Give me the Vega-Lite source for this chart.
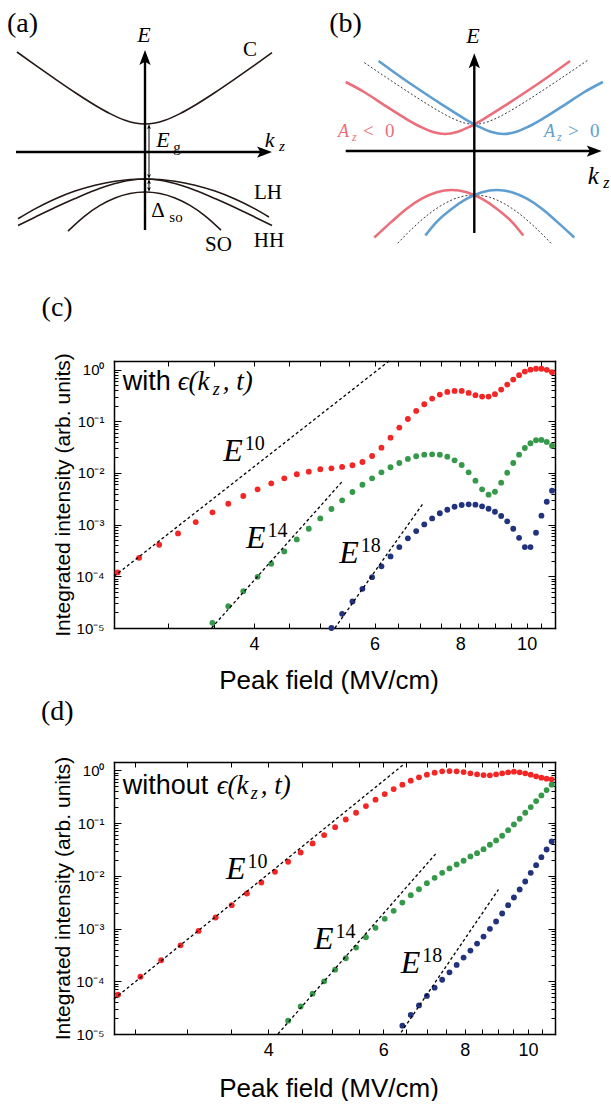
{
  "$schema": "https://vega.github.io/schema/vega-lite/v6.json",
  "padding": 0,
  "background": "white",
  "bounds": "flush",
  "spacing": 134,
  "resolve": {"scale": {"color": "independent"}},
  "config": {
    "view": {"stroke": null},
    "axis": {"tickColor": "black", "labelColor": "black", "titleColor": "black", "grid": false, "domainColor": "black", "domainWidth": 1.5, "domainCap": "square"}
  },
  "vconcat": [
    {
      "width": 611,
      "height": 227,
      "resolve": {"scale": {"x": "independent", "y": "independent"}},
      "layer": [
        {
          "encoding": {
            "x": {"field": "k", "type": "quantitative", "scale": {"domain": [-145, 466], "nice": false, "zero": false}, "axis": null},
            "y": {"field": "E", "type": "quantitative", "scale": {"domain": [-75, 152], "nice": false, "zero": false}, "axis": null}
          },
          "layer": [
            {
              "data": {"values": [
                {"k": -128, "E": 100, "band": "C"}, {"k": -110, "E": 87.1, "band": "C"}, {"k": -90, "E": 73.1, "band": "C"}, {"k": -70, "E": 59.5, "band": "C"}, {"k": -50, "E": 46.8, "band": "C"}, {"k": -35, "E": 38.4, "band": "C"}, {"k": -20, "E": 31.8, "band": "C"}, {"k": -10, "E": 29, "band": "C"}, {"k": 0, "E": 28, "band": "C"}, {"k": 10, "E": 29, "band": "C"}, {"k": 20, "E": 31.8, "band": "C"}, {"k": 35, "E": 38.4, "band": "C"}, {"k": 50, "E": 46.8, "band": "C"}, {"k": 70, "E": 59.5, "band": "C"}, {"k": 90, "E": 73.1, "band": "C"}, {"k": 110, "E": 87.1, "band": "C"}, {"k": 127, "E": 99.3, "band": "C"},
                {"k": -127, "E": -66.8, "band": "LH"}, {"k": -110, "E": -56.9, "band": "LH"}, {"k": -90, "E": -47, "band": "LH"}, {"k": -70, "E": -39.1, "band": "LH"}, {"k": -50, "E": -33.2, "band": "LH"}, {"k": -30, "E": -29.2, "band": "LH"}, {"k": 0, "E": -27, "band": "LH"}, {"k": 30, "E": -29.2, "band": "LH"}, {"k": 50, "E": -33.2, "band": "LH"}, {"k": 70, "E": -39.1, "band": "LH"}, {"k": 90, "E": -47, "band": "LH"}, {"k": 110, "E": -56.9, "band": "LH"}, {"k": 124, "E": -65, "band": "LH"},
                {"k": -127, "E": -73.5, "band": "HH"}, {"k": -110, "E": -65.2, "band": "HH"}, {"k": -90, "E": -55.6, "band": "HH"}, {"k": -70, "E": -46.6, "band": "HH"}, {"k": -50, "E": -38.3, "band": "HH"}, {"k": -30, "E": -31.6, "band": "HH"}, {"k": -15, "E": -28.2, "band": "HH"}, {"k": 0, "E": -27, "band": "HH"}, {"k": 15, "E": -28.2, "band": "HH"}, {"k": 30, "E": -31.6, "band": "HH"}, {"k": 50, "E": -38.3, "band": "HH"}, {"k": 70, "E": -46.6, "band": "HH"}, {"k": 90, "E": -55.6, "band": "HH"}, {"k": 110, "E": -65.2, "band": "HH"}, {"k": 127, "E": -73.5, "band": "HH"},
                {"k": -77, "E": -79.1, "band": "SO"}, {"k": -60, "E": -63.8, "band": "SO"}, {"k": -45, "E": -53.4, "band": "SO"}, {"k": -30, "E": -45.9, "band": "SO"}, {"k": -15, "E": -41.5, "band": "SO"}, {"k": 0, "E": -40, "band": "SO"}, {"k": 15, "E": -41.5, "band": "SO"}, {"k": 30, "E": -45.9, "band": "SO"}, {"k": 45, "E": -53.4, "band": "SO"}, {"k": 60, "E": -63.8, "band": "SO"}, {"k": 76, "E": -78.1, "band": "SO"}
              ]},
              "mark": {"type": "line", "color": "#231815", "strokeWidth": 1.6, "interpolate": "monotone"},
              "encoding": {"detail": {"field": "band"}}
            },
            {
              "data": {"values": [{"k": -129, "E": 0, "k2": 120, "E2": 0}, {"k": 0, "E": -78, "k2": 0, "E2": 95}]},
              "mark": {"type": "rule", "color": "black", "strokeWidth": 2.4},
              "encoding": {"x2": {"field": "k2"}, "y2": {"field": "E2"}}
            },
            {
              "data": {"values": [{"k": 4, "E": 25, "k2": 4, "E2": -24}, {"k": 4, "E": -29, "k2": 4, "E2": -38}]},
              "mark": {"type": "rule", "color": "black", "strokeWidth": 1},
              "encoding": {"x2": {"field": "k2"}, "y2": {"field": "E2"}}
            },
            {
              "data": {"values": [{"k": 0, "E": 94.5}]},
              "mark": {"type": "point", "shape": "M0,-1L0.75,1L0,0.55L-0.75,1Z", "filled": true, "color": "black", "opacity": 1, "size": 225, "strokeWidth": 0}
            },
            {
              "data": {"values": [{"k": 119.5, "E": 0}]},
              "mark": {"type": "point", "shape": "M0,-1L0.75,1L0,0.55L-0.75,1Z", "filled": true, "color": "black", "opacity": 1, "size": 225, "strokeWidth": 0, "angle": 90}
            },
            {
              "data": {"values": [{"k": 4, "E": 25.5}, {"k": 4, "E": -29.5}]},
              "mark": {"type": "point", "shape": "M0,-1L0.75,1L0,0.55L-0.75,1Z", "filled": true, "color": "black", "opacity": 1, "size": 25, "strokeWidth": 0}
            },
            {
              "data": {"values": [{"k": 4, "E": -24.5}, {"k": 4, "E": -37.5}]},
              "mark": {"type": "point", "shape": "M0,-1L0.75,1L0,0.55L-0.75,1Z", "filled": true, "color": "black", "opacity": 1, "size": 25, "strokeWidth": 0, "angle": 180}
            },
            {
              "data": {"values": [{"k": -1, "E": 117, "t": "E"}, {"k": 124.5, "E": 12, "t": "k"}, {"k": 18, "E": 12, "t": "E"}]},
              "mark": {"type": "text", "font": "Liberation Serif", "fontStyle": "italic", "fontSize": 22, "color": "black"},
              "encoding": {"text": {"field": "t"}}
            },
            {
              "data": {"values": [{"k": 137, "E": 6, "t": "z"}]},
              "mark": {"type": "text", "font": "Liberation Serif", "fontStyle": "italic", "fontSize": 15, "color": "black"},
              "encoding": {"text": {"field": "t"}}
            },
            {
              "data": {"values": [{"k": 105, "E": 102, "t": "C"}, {"k": 123, "E": -40.5, "t": "LH"}, {"k": 124, "E": -88.5, "t": "HH"}, {"k": 73.5, "E": -93, "t": "SO"}, {"k": 13, "E": -59, "t": "Δ"}]},
              "mark": {"type": "text", "font": "Liberation Serif", "fontSize": 21, "color": "black"},
              "encoding": {"text": {"field": "t"}}
            },
            {
              "data": {"values": [{"k": 32, "E": 5, "t": "g"}, {"k": 31, "E": -64.5, "t": "so"}]},
              "mark": {"type": "text", "font": "Liberation Serif", "fontSize": 15, "color": "black"},
              "encoding": {"text": {"field": "t"}}
            },
            {
              "data": {"values": [{"k": -122.5, "E": 128, "t": "(a)"}]},
              "mark": {"type": "text", "font": "Liberation Serif", "fontSize": 28, "color": "black"},
              "encoding": {"text": {"field": "t"}}
            }
          ]
        },
        {
          "encoding": {
            "x": {"field": "k", "type": "quantitative", "scale": {"domain": [-474.3, 136.7], "nice": false, "zero": false}, "axis": null},
            "y": {"field": "E", "type": "quantitative", "scale": {"domain": [-76, 151], "nice": false, "zero": false}, "axis": null}
          },
          "layer": [
            {
              "data": {"values": [
                {"k": -110, "E": 88.4, "band": "u"}, {"k": -90, "E": 74.9, "band": "u"}, {"k": -70, "E": 61.6, "band": "u"}, {"k": -50, "E": 48.7, "band": "u"}, {"k": -35, "E": 39.6, "band": "u"}, {"k": -20, "E": 31.8, "band": "u"}, {"k": -10, "E": 28.1, "band": "u"}, {"k": 0, "E": 26.7, "band": "u"}, {"k": 10, "E": 28.1, "band": "u"}, {"k": 20, "E": 31.8, "band": "u"}, {"k": 35, "E": 39.6, "band": "u"}, {"k": 50, "E": 48.7, "band": "u"}, {"k": 70, "E": 61.6, "band": "u"}, {"k": 90, "E": 74.9, "band": "u"}, {"k": 114, "E": 91.2, "band": "u"},
                {"k": -76.6, "E": -92.3, "band": "l"}, {"k": -60, "E": -75.6, "band": "l"}, {"k": -45, "E": -62.7, "band": "l"}, {"k": -30, "E": -52.7, "band": "l"}, {"k": -15, "E": -46.2, "band": "l"}, {"k": 0, "E": -44, "band": "l"}, {"k": 15, "E": -46.2, "band": "l"}, {"k": 30, "E": -52.7, "band": "l"}, {"k": 45, "E": -62.7, "band": "l"}, {"k": 60, "E": -75.6, "band": "l"}, {"k": 76.7, "E": -92.3, "band": "l"}
              ]},
              "mark": {"type": "line", "color": "#3a3a3a", "strokeWidth": 1, "strokeDash": [2, 2], "interpolate": "monotone"},
              "encoding": {"detail": {"field": "band"}}
            },
            {
              "data": {"values": [
                {"k": -128.6, "E": 69, "side": "neg", "band": "u"}, {"k": -109.3, "E": 58.5, "side": "neg", "band": "u"}, {"k": -89.3, "E": 45.4, "side": "neg", "band": "u"}, {"k": -69.3, "E": 32.8, "side": "neg", "band": "u"}, {"k": -54.3, "E": 24.5, "side": "neg", "band": "u"}, {"k": -41.3, "E": 19, "side": "neg", "band": "u"}, {"k": -29.3, "E": 17, "side": "neg", "band": "u"}, {"k": -17.3, "E": 19, "side": "neg", "band": "u"}, {"k": -4.3, "E": 24.5, "side": "neg", "band": "u"}, {"k": 10.7, "E": 32.8, "side": "neg", "band": "u"}, {"k": 30.7, "E": 45.4, "side": "neg", "band": "u"}, {"k": 50.7, "E": 58.5, "side": "neg", "band": "u"}, {"k": 70.7, "E": 72, "side": "neg", "band": "u"}, {"k": 95.7, "E": 90, "side": "neg", "band": "u"},
                {"k": -95.7, "E": 90, "side": "pos", "band": "u"}, {"k": -70.7, "E": 72, "side": "pos", "band": "u"}, {"k": -50.7, "E": 58.5, "side": "pos", "band": "u"}, {"k": -30.7, "E": 45.4, "side": "pos", "band": "u"}, {"k": -10.7, "E": 32.8, "side": "pos", "band": "u"}, {"k": 4.3, "E": 24.5, "side": "pos", "band": "u"}, {"k": 17.3, "E": 19, "side": "pos", "band": "u"}, {"k": 29.3, "E": 17, "side": "pos", "band": "u"}, {"k": 41.3, "E": 19, "side": "pos", "band": "u"}, {"k": 54.3, "E": 24.5, "side": "pos", "band": "u"}, {"k": 69.3, "E": 32.8, "side": "pos", "band": "u"}, {"k": 89.3, "E": 45.4, "side": "pos", "band": "u"}, {"k": 109.3, "E": 58.5, "side": "pos", "band": "u"}, {"k": 128.6, "E": 69, "side": "pos", "band": "u"},
                {"k": -100, "E": -86.5, "side": "neg", "band": "l"}, {"k": -82.6, "E": -70.6, "side": "neg", "band": "l"}, {"k": -67.6, "E": -57.7, "side": "neg", "band": "l"}, {"k": -52.6, "E": -47.7, "side": "neg", "band": "l"}, {"k": -37.6, "E": -41.2, "side": "neg", "band": "l"}, {"k": -22.6, "E": -39, "side": "neg", "band": "l"}, {"k": -7.6, "E": -41.2, "side": "neg", "band": "l"}, {"k": 7.4, "E": -47.7, "side": "neg", "band": "l"}, {"k": 22.4, "E": -57.7, "side": "neg", "band": "l"}, {"k": 37.4, "E": -70.6, "side": "neg", "band": "l"}, {"k": 49, "E": -84.5, "side": "neg", "band": "l"},
                {"k": -49, "E": -84.5, "side": "pos", "band": "l"}, {"k": -37.4, "E": -70.6, "side": "pos", "band": "l"}, {"k": -22.4, "E": -57.7, "side": "pos", "band": "l"}, {"k": -7.4, "E": -47.7, "side": "pos", "band": "l"}, {"k": 7.6, "E": -41.2, "side": "pos", "band": "l"}, {"k": 22.6, "E": -39, "side": "pos", "band": "l"}, {"k": 37.6, "E": -41.2, "side": "pos", "band": "l"}, {"k": 52.6, "E": -47.7, "side": "pos", "band": "l"}, {"k": 67.6, "E": -57.7, "side": "pos", "band": "l"}, {"k": 82.6, "E": -70.6, "side": "pos", "band": "l"}, {"k": 100, "E": -86.5, "side": "pos", "band": "l"}
              ]},
              "mark": {"type": "line", "strokeWidth": 2.6, "interpolate": "monotone"},
              "encoding": {
                "color": {"field": "side", "type": "nominal", "scale": {"domain": ["neg", "pos"], "range": ["#ea6f7b", "#5f9ed1"]}, "legend": null},
                "detail": {"field": "band"}
              }
            },
            {
              "data": {"values": [{"k": -128.6, "E": 0, "k2": 120, "E2": 0}, {"k": 0, "E": -82, "k2": 0, "E2": 91}]},
              "mark": {"type": "rule", "color": "black", "strokeWidth": 2.4},
              "encoding": {"x2": {"field": "k2"}, "y2": {"field": "E2"}}
            },
            {
              "data": {"values": [{"k": 0, "E": 90.2}]},
              "mark": {"type": "point", "shape": "M0,-1L0.75,1L0,0.55L-0.75,1Z", "filled": true, "color": "black", "opacity": 1, "size": 225, "strokeWidth": 0}
            },
            {
              "data": {"values": [{"k": 119.9, "E": 0}]},
              "mark": {"type": "point", "shape": "M0,-1L0.75,1L0,0.55L-0.75,1Z", "filled": true, "color": "black", "opacity": 1, "size": 225, "strokeWidth": 0, "angle": 90}
            },
            {
              "data": {"values": [{"k": -1.3, "E": 115.5, "t": "E"}]},
              "mark": {"type": "text", "font": "Liberation Serif", "fontStyle": "italic", "fontSize": 22, "color": "black"},
              "encoding": {"text": {"field": "t"}}
            },
            {
              "data": {"values": [{"k": 119, "E": -24.5, "t": "k"}]},
              "mark": {"type": "text", "font": "Liberation Serif", "fontStyle": "italic", "fontSize": 25, "color": "black"},
              "encoding": {"text": {"field": "t"}}
            },
            {
              "data": {"values": [{"k": 132, "E": -31.5, "t": "z"}]},
              "mark": {"type": "text", "font": "Liberation Serif", "fontStyle": "italic", "fontSize": 16, "color": "black"},
              "encoding": {"text": {"field": "t"}}
            },
            {
              "data": {"values": [{"k": -128.8, "E": 127, "t": "(b)"}]},
              "mark": {"type": "text", "font": "Liberation Serif", "fontSize": 28, "color": "black"},
              "encoding": {"text": {"field": "t"}}
            },
            {
              "data": {"values": [{"k": -136.3, "E": 14, "t": "A", "side": "neg"}, {"k": 69.7, "E": 14, "t": "A", "side": "pos"}]},
              "mark": {"type": "text", "font": "Liberation Serif", "fontStyle": "italic", "fontSize": 18, "align": "left", "baseline": "alphabetic"},
              "encoding": {"text": {"field": "t"}, "color": {"field": "side", "type": "nominal", "scale": {"domain": ["neg", "pos"], "range": ["#ea6f7b", "#5f9ed1"]}, "legend": null}}
            },
            {
              "data": {"values": [{"k": -122.3, "E": 10, "t": "z", "side": "neg"}, {"k": 82.7, "E": 10, "t": "z", "side": "pos"}]},
              "mark": {"type": "text", "font": "Liberation Serif", "fontStyle": "italic", "fontSize": 12, "align": "left", "baseline": "alphabetic"},
              "encoding": {"text": {"field": "t"}, "color": {"field": "side", "type": "nominal", "scale": {"domain": ["neg", "pos"], "range": ["#ea6f7b", "#5f9ed1"]}, "legend": null}}
            },
            {
              "data": {"values": [{"k": -111.3, "E": 14, "t": "<", "side": "neg"}, {"k": -89.3, "E": 14, "t": "0", "side": "neg"}, {"k": 93.7, "E": 14, "t": ">", "side": "pos"}, {"k": 115.7, "E": 14, "t": "0", "side": "pos"}]},
              "mark": {"type": "text", "font": "Liberation Serif", "fontSize": 19, "align": "left", "baseline": "alphabetic"},
              "encoding": {"text": {"field": "t"}, "color": {"field": "side", "type": "nominal", "scale": {"domain": ["neg", "pos"], "range": ["#ea6f7b", "#5f9ed1"]}, "legend": null}}
            }
          ]
        }
      ]
    },
    {
      "width": 555,
      "height": 267,
      "resolve": {"axis": {"x": "independent", "y": "independent"}},
      "layer": [
        {
          "data": {"values": [
            {"E": 2.53, "I": 1.19e-4, "s": "r"}, {"E": 2.72, "I": 2.28e-4, "s": "r"}, {"E": 2.91, "I": 4.08e-4, "s": "r"}, {"E": 3.10, "I": 6.78e-4, "s": "r"}, {"E": 3.29, "I": 1.12e-3, "s": "r"}, {"E": 3.48, "I": 1.73e-3, "s": "r"}, {"E": 3.67, "I": 2.54e-3, "s": "r"}, {"E": 3.86, "I": 3.58e-3, "s": "r"}, {"E": 4.05, "I": 4.83e-3, "s": "r"}, {"E": 4.24, "I": 6.31e-3, "s": "r"}, {"E": 4.43, "I": 7.88e-3, "s": "r"}, {"E": 4.62, "I": 9.44e-3, "s": "r"}, {"E": 4.81, "I": 1.06e-2, "s": "r"}, {"E": 5.00, "I": 1.18e-2, "s": "r"}, {"E": 5.19, "I": 1.23e-2, "s": "r"}, {"E": 5.38, "I": 1.31e-2, "s": "r"}, {"E": 5.57, "I": 1.41e-2, "s": "r"}, {"E": 5.76, "I": 1.63e-2, "s": "r"}, {"E": 5.95, "I": 2.13e-2, "s": "r"}, {"E": 6.14, "I": 3.09e-2, "s": "r"}, {"E": 6.33, "I": 4.83e-2, "s": "r"}, {"E": 6.52, "I": 7.55e-2, "s": "r"}, {"E": 6.71, "I": 0.111, "s": "r"}, {"E": 6.90, "I": 0.159, "s": "r"}, {"E": 7.09, "I": 0.214, "s": "r"}, {"E": 7.28, "I": 0.275, "s": "r"}, {"E": 7.47, "I": 0.329, "s": "r"}, {"E": 7.66, "I": 0.371, "s": "r"}, {"E": 7.85, "I": 0.388, "s": "r"}, {"E": 8.04, "I": 0.388, "s": "r"}, {"E": 8.23, "I": 0.355, "s": "r"}, {"E": 8.42, "I": 0.321, "s": "r"}, {"E": 8.61, "I": 0.301, "s": "r"}, {"E": 8.80, "I": 0.301, "s": "r"}, {"E": 8.99, "I": 0.335, "s": "r"}, {"E": 9.18, "I": 0.411, "s": "r"}, {"E": 9.37, "I": 0.514, "s": "r"}, {"E": 9.56, "I": 0.643, "s": "r"}, {"E": 9.75, "I": 0.782, "s": "r"}, {"E": 9.94, "I": 0.918, "s": "r"}, {"E": 10.13, "I": 1.0, "s": "r"}, {"E": 10.32, "I": 1.04, "s": "r"}, {"E": 10.51, "I": 1.04, "s": "r"}, {"E": 10.70, "I": 0.99, "s": "r"}, {"E": 10.89, "I": 0.893, "s": "r"},
            {"E": 3.48, "I": 1.26e-5, "s": "g"}, {"E": 3.67, "I": 2.65e-5, "s": "g"}, {"E": 3.86, "I": 5.17e-5, "s": "g"}, {"E": 4.05, "I": 9.78e-5, "s": "g"}, {"E": 4.24, "I": 1.75e-4, "s": "g"}, {"E": 4.43, "I": 3.04e-4, "s": "g"}, {"E": 4.62, "I": 5.19e-4, "s": "g"}, {"E": 4.81, "I": 8.33e-4, "s": "g"}, {"E": 5.00, "I": 1.32e-3, "s": "g"}, {"E": 5.19, "I": 2.01e-3, "s": "g"}, {"E": 5.38, "I": 2.96e-3, "s": "g"}, {"E": 5.57, "I": 4.28e-3, "s": "g"}, {"E": 5.76, "I": 5.93e-3, "s": "g"}, {"E": 5.95, "I": 7.89e-3, "s": "g"}, {"E": 6.14, "I": 1.03e-2, "s": "g"}, {"E": 6.33, "I": 1.29e-2, "s": "g"}, {"E": 6.52, "I": 1.56e-2, "s": "g"}, {"E": 6.71, "I": 1.87e-2, "s": "g"}, {"E": 6.90, "I": 2.11e-2, "s": "g"}, {"E": 7.09, "I": 2.26e-2, "s": "g"}, {"E": 7.28, "I": 2.30e-2, "s": "g"}, {"E": 7.47, "I": 2.26e-2, "s": "g"}, {"E": 7.66, "I": 2.07e-2, "s": "g"}, {"E": 7.85, "I": 1.76e-2, "s": "g"}, {"E": 8.04, "I": 1.43e-2, "s": "g"}, {"E": 8.23, "I": 1.03e-2, "s": "g"}, {"E": 8.42, "I": 7.09e-3, "s": "g"}, {"E": 8.61, "I": 4.83e-3, "s": "g"}, {"E": 8.80, "I": 3.80e-3, "s": "g"}, {"E": 8.99, "I": 4.34e-3, "s": "g"}, {"E": 9.18, "I": 6.49e-3, "s": "g"}, {"E": 9.37, "I": 1.01e-2, "s": "g"}, {"E": 9.56, "I": 1.56e-2, "s": "g"}, {"E": 9.75, "I": 2.26e-2, "s": "g"}, {"E": 9.94, "I": 3.05e-2, "s": "g"}, {"E": 10.13, "I": 3.76e-2, "s": "g"}, {"E": 10.32, "I": 4.30e-2, "s": "g"}, {"E": 10.51, "I": 4.36e-2, "s": "g"}, {"E": 10.70, "I": 3.99e-2, "s": "g"}, {"E": 10.89, "I": 3.38e-2, "s": "g"},
            {"E": 5.19, "I": 1.0e-5, "s": "b"}, {"E": 5.38, "I": 1.88e-5, "s": "b"}, {"E": 5.57, "I": 3.26e-5, "s": "b"}, {"E": 5.76, "I": 5.73e-5, "s": "b"}, {"E": 5.95, "I": 9.65e-5, "s": "b"}, {"E": 6.14, "I": 1.56e-4, "s": "b"}, {"E": 6.33, "I": 2.43e-4, "s": "b"}, {"E": 6.52, "I": 3.68e-4, "s": "b"}, {"E": 6.71, "I": 5.43e-4, "s": "b"}, {"E": 6.90, "I": 7.52e-4, "s": "b"}, {"E": 7.09, "I": 1.01e-3, "s": "b"}, {"E": 7.28, "I": 1.32e-3, "s": "b"}, {"E": 7.47, "I": 1.66e-3, "s": "b"}, {"E": 7.66, "I": 1.94e-3, "s": "b"}, {"E": 7.85, "I": 2.22e-3, "s": "b"}, {"E": 8.04, "I": 2.40e-3, "s": "b"}, {"E": 8.23, "I": 2.47e-3, "s": "b"}, {"E": 8.42, "I": 2.44e-3, "s": "b"}, {"E": 8.61, "I": 2.26e-3, "s": "b"}, {"E": 8.80, "I": 2.03e-3, "s": "b"}, {"E": 8.99, "I": 1.78e-3, "s": "b"}, {"E": 9.18, "I": 1.47e-3, "s": "b"}, {"E": 9.37, "I": 1.16e-3, "s": "b"}, {"E": 9.56, "I": 8.33e-4, "s": "b"}, {"E": 9.75, "I": 5.57e-4, "s": "b"}, {"E": 9.94, "I": 3.68e-4, "s": "b"}, {"E": 10.13, "I": 3.68e-4, "s": "b"}, {"E": 10.32, "I": 6.97e-4, "s": "b"}, {"E": 10.51, "I": 1.49e-3, "s": "b"}, {"E": 10.70, "I": 2.78e-3, "s": "b"}, {"E": 10.89, "I": 4.54e-3, "s": "b"}
          ]},
          "mark": {"type": "circle", "size": 34, "opacity": 1},
          "encoding": {
            "x": {"field": "E", "type": "quantitative", "scale": {"type": "log", "domain": [2.5, 11], "range": [114, 555], "nice": false},
              "axis": {"orient": "bottom", "values": [2.5, 3, 3.5, 4, 4.5, 5, 5.5, 6, 6.5, 7, 7.5, 8, 8.5, 9, 9.5, 10, 10.5, 11], "labelExpr": "datum.value == 4 || datum.value == 6 || datum.value == 8 || datum.value == 10 ? format(datum.value, 'd') : ''", "domain": true, "tickSize": -5, "tickWidth": 1, "labelFont": "Liberation Sans", "labelFontSize": 18, "labelPadding": 12, "labelOverlap": false, "labelFlush": false, "title": "Peak field (MV/cm)", "titleFont": "Liberation Sans", "titleFontSize": 26, "titleFontWeight": "normal", "titleX": 328.5, "titleY": 60, "titleBaseline": "alphabetic", "titleAlign": "center"}},
            "y": {"field": "I", "type": "quantitative", "scale": {"type": "log", "domain": [0.00001, 1.47], "nice": false},
              "axis": {"orient": "left", "offset": -114, "values": [0.00001, 0.00002, 0.00003, 0.00004, 0.00005, 0.00006, 0.00007, 0.00008, 0.00009, 0.0001, 0.0002, 0.0003, 0.0004, 0.0005, 0.0006, 0.0007, 0.0008, 0.0009, 0.001, 0.002, 0.003, 0.004, 0.005, 0.006, 0.007, 0.008, 0.009, 0.01, 0.02, 0.03, 0.04, 0.05, 0.06, 0.07, 0.08, 0.09, 0.1, 0.2, 0.3, 0.4, 0.5, 0.6, 0.7, 0.8, 0.9, 1], "labelExpr": "abs(log(datum.value)/LN10 - round(log(datum.value)/LN10)) < 0.001 ? '10' + (datum.value < 0.5 ? '⁻' : '') + ['⁰','¹','²','³','⁴','⁵'][abs(round(log(datum.value)/LN10))] : ''", "domain": true, "tickSize": {"condition": {"test": "abs(log(datum.value)/LN10 - round(log(datum.value)/LN10)) < 0.001", "value": -7}, "value": -4}, "tickWidth": 1, "labelFont": "Liberation Sans", "labelFontSize": 15, "labelPadding": 17, "labelOverlap": false, "labelFlush": false, "title": "Integrated intensity (arb. units)", "titleFont": "Liberation Sans", "titleFontSize": 21, "titleFontWeight": "normal", "titleAngle": -90, "titleX": -51, "titleY": 133.5, "titleBaseline": "middle", "titleAlign": "center"}},
            "color": {"field": "s", "type": "nominal", "scale": {"domain": ["r", "g", "b"], "range": ["#f42525", "#35994a", "#22337d"]}, "legend": null}
          }
        },
        {
          "data": {"values": [
            {"E": 2.5, "I": 1.0e-4, "f": "10"}, {"E": 6.3, "I": 1.47, "f": "10"},
            {"E": 3.47, "I": 1.0e-5, "f": "14"}, {"E": 5.39, "I": 7.0e-3, "f": "14"},
            {"E": 5.25, "I": 1.0e-5, "f": "18"}, {"E": 7.05, "I": 2.5e-3, "f": "18"}
          ]},
          "mark": {"type": "line", "color": "black", "strokeWidth": 1.3, "strokeDash": [3, 2.5]},
          "encoding": {
            "x": {"field": "E", "type": "quantitative", "scale": {"type": "log", "domain": [2.5, 11], "range": [114, 555], "nice": false},
              "axis": {"orient": "top", "values": [2.5, 3, 3.5, 4, 4.5, 5, 5.5, 6, 6.5, 7, 7.5, 8, 8.5, 9, 9.5, 10, 10.5, 11], "domain": true, "labels": false, "tickSize": -5, "tickWidth": 1, "title": null}},
            "y": {"field": "I", "type": "quantitative", "scale": {"type": "log", "domain": [0.00001, 1.47], "nice": false},
              "axis": {"orient": "right", "values": [0.00001, 0.00002, 0.00003, 0.00004, 0.00005, 0.00006, 0.00007, 0.00008, 0.00009, 0.0001, 0.0002, 0.0003, 0.0004, 0.0005, 0.0006, 0.0007, 0.0008, 0.0009, 0.001, 0.002, 0.003, 0.004, 0.005, 0.006, 0.007, 0.008, 0.009, 0.01, 0.02, 0.03, 0.04, 0.05, 0.06, 0.07, 0.08, 0.09, 0.1, 0.2, 0.3, 0.4, 0.5, 0.6, 0.7, 0.8, 0.9, 1], "domain": true, "labels": false, "tickSize": {"condition": {"test": "abs(log(datum.value)/LN10 - round(log(datum.value)/LN10)) < 0.001", "value": -7}, "value": -4}, "tickWidth": 1, "title": null}},
            "detail": {"field": "f"}
          }
        },
        {
          "data": {"values": [{"E": 3.854, "I": 1.708e-2, "sup": "10"}, {"E": 4.16, "I": 3.52e-4, "sup": "14"}, {"E": 5.69, "I": 1.8e-4, "sup": "18"}]},
          "mark": {"type": "text", "font": "Liberation Serif", "fontStyle": "italic", "fontSize": 32, "align": "right", "baseline": "alphabetic", "color": "black", "text": "E"},
          "encoding": {
            "x": {"field": "E", "type": "quantitative", "scale": {"type": "log", "domain": [2.5, 11], "range": [114, 555], "nice": false}, "axis": null},
            "y": {"field": "I", "type": "quantitative", "scale": {"type": "log", "domain": [0.00001, 1.47], "nice": false}, "axis": null}
          }
        },
        {
          "data": {"values": [{"E": 3.854, "I": 1.708e-2, "sup": "10"}, {"E": 4.16, "I": 3.52e-4, "sup": "14"}, {"E": 5.69, "I": 1.8e-4, "sup": "18"}]},
          "mark": {"type": "text", "font": "Liberation Serif", "fontSize": 20, "align": "left", "baseline": "alphabetic", "color": "black", "dx": 2, "dy": -11},
          "encoding": {
            "x": {"field": "E", "type": "quantitative", "scale": {"type": "log", "domain": [2.5, 11], "range": [114, 555], "nice": false}, "axis": null},
            "y": {"field": "I", "type": "quantitative", "scale": {"type": "log", "domain": [0.00001, 1.47], "nice": false}, "axis": null},
            "text": {"field": "sup"}
          }
        },
        {
          "data": {"values": [{"E": 2.574, "I": 0.406, "t": "with"}]},
          "mark": {"type": "text", "font": "Liberation Sans", "fontSize": 27, "align": "left", "baseline": "alphabetic", "color": "black"},
          "encoding": {
            "x": {"field": "E", "type": "quantitative", "scale": {"type": "log", "domain": [2.5, 11], "range": [114, 555], "nice": false}, "axis": null},
            "y": {"field": "I", "type": "quantitative", "scale": {"type": "log", "domain": [0.00001, 1.47], "nice": false}, "axis": null},
            "text": {"field": "t"}
          }
        },
        {
          "data": {"values": [{"E": 2.574, "I": 0.406, "t": "ϵ(k"}]},
          "mark": {"type": "text", "font": "Liberation Serif", "fontStyle": "italic", "fontSize": 27, "align": "left", "baseline": "alphabetic", "color": "black", "dx": 55},
          "encoding": {
            "x": {"field": "E", "type": "quantitative", "scale": {"type": "log", "domain": [2.5, 11], "range": [114, 555], "nice": false}, "axis": null},
            "y": {"field": "I", "type": "quantitative", "scale": {"type": "log", "domain": [0.00001, 1.47], "nice": false}, "axis": null},
            "text": {"field": "t"}
          }
        },
        {
          "data": {"values": [{"E": 2.574, "I": 0.406, "t": "z"}]},
          "mark": {"type": "text", "font": "Liberation Serif", "fontStyle": "italic", "fontSize": 18, "align": "left", "baseline": "alphabetic", "color": "black", "dx": 90, "dy": 5},
          "encoding": {
            "x": {"field": "E", "type": "quantitative", "scale": {"type": "log", "domain": [2.5, 11], "range": [114, 555], "nice": false}, "axis": null},
            "y": {"field": "I", "type": "quantitative", "scale": {"type": "log", "domain": [0.00001, 1.47], "nice": false}, "axis": null},
            "text": {"field": "t"}
          }
        },
        {
          "data": {"values": [{"E": 2.574, "I": 0.406, "t": ", t)"}]},
          "mark": {"type": "text", "font": "Liberation Serif", "fontStyle": "italic", "fontSize": 27, "align": "left", "baseline": "alphabetic", "color": "black", "dx": 100},
          "encoding": {
            "x": {"field": "E", "type": "quantitative", "scale": {"type": "log", "domain": [2.5, 11], "range": [114, 555], "nice": false}, "axis": null},
            "y": {"field": "I", "type": "quantitative", "scale": {"type": "log", "domain": [0.00001, 1.47], "nice": false}, "axis": null},
            "text": {"field": "t"}
          }
        },
        {
          "data": {"values": [{"E": 2.065, "I": 10.8, "t": "(c)"}]},
          "mark": {"type": "text", "font": "Liberation Serif", "fontSize": 28, "align": "center", "baseline": "alphabetic", "color": "black"},
          "encoding": {
            "x": {"field": "E", "type": "quantitative", "scale": {"type": "log", "domain": [2.5, 11], "range": [114, 555], "nice": false}, "axis": null},
            "y": {"field": "I", "type": "quantitative", "scale": {"type": "log", "domain": [0.00001, 1.47], "nice": false}, "axis": null},
            "text": {"field": "t"}
          }
        }
      ]
    },
    {
      "width": 555,
      "height": 272,
      "resolve": {"axis": {"x": "independent", "y": "independent"}},
      "layer": [
        {
          "data": {"values": [
            {"E": 2.353, "I": 5.57e-5, "s": "r"}, {"E": 2.547, "I": 1.22e-4, "s": "r"}, {"E": 2.740, "I": 2.50e-4, "s": "r"}, {"E": 2.934, "I": 4.81e-4, "s": "r"}, {"E": 3.127, "I": 9.03e-4, "s": "r"}, {"E": 3.321, "I": 1.62e-3, "s": "r"}, {"E": 3.515, "I": 2.77e-3, "s": "r"}, {"E": 3.708, "I": 4.62e-3, "s": "r"}, {"E": 3.902, "I": 7.46e-3, "s": "r"}, {"E": 4.095, "I": 1.19e-2, "s": "r"}, {"E": 4.289, "I": 1.85e-2, "s": "r"}, {"E": 4.483, "I": 2.77e-2, "s": "r"}, {"E": 4.676, "I": 4.11e-2, "s": "r"}, {"E": 4.870, "I": 5.91e-2, "s": "r"}, {"E": 5.063, "I": 8.38e-2, "s": "r"}, {"E": 5.257, "I": 0.117, "s": "r"}, {"E": 5.451, "I": 0.157, "s": "r"}, {"E": 5.644, "I": 0.210, "s": "r"}, {"E": 5.838, "I": 0.278, "s": "r"}, {"E": 6.031, "I": 0.355, "s": "r"}, {"E": 6.225, "I": 0.442, "s": "r"}, {"E": 6.419, "I": 0.535, "s": "r"}, {"E": 6.612, "I": 0.637, "s": "r"}, {"E": 6.806, "I": 0.736, "s": "r"}, {"E": 6.999, "I": 0.829, "s": "r"}, {"E": 7.193, "I": 0.904, "s": "r"}, {"E": 7.387, "I": 0.957, "s": "r"}, {"E": 7.580, "I": 0.970, "s": "r"}, {"E": 7.774, "I": 0.957, "s": "r"}, {"E": 7.967, "I": 0.928, "s": "r"}, {"E": 8.161, "I": 0.877, "s": "r"}, {"E": 8.355, "I": 0.840, "s": "r"}, {"E": 8.548, "I": 0.814, "s": "r"}, {"E": 8.742, "I": 0.804, "s": "r"}, {"E": 8.935, "I": 0.840, "s": "r"}, {"E": 9.129, "I": 0.877, "s": "r"}, {"E": 9.323, "I": 0.916, "s": "r"}, {"E": 9.516, "I": 0.945, "s": "r"}, {"E": 9.710, "I": 0.916, "s": "r"}, {"E": 9.903, "I": 0.877, "s": "r"}, {"E": 10.097, "I": 0.829, "s": "r"}, {"E": 10.291, "I": 0.769, "s": "r"}, {"E": 10.484, "I": 0.727, "s": "r"}, {"E": 10.678, "I": 0.696, "s": "r"}, {"E": 10.871, "I": 0.675, "s": "r"},
            {"E": 4.289, "I": 1.79e-5, "s": "g"}, {"E": 4.483, "I": 3.34e-5, "s": "g"}, {"E": 4.676, "I": 5.82e-5, "s": "g"}, {"E": 4.870, "I": 9.97e-5, "s": "g"}, {"E": 5.063, "I": 1.66e-4, "s": "g"}, {"E": 5.257, "I": 2.73e-4, "s": "g"}, {"E": 5.451, "I": 4.35e-4, "s": "g"}, {"E": 5.644, "I": 6.83e-4, "s": "g"}, {"E": 5.838, "I": 1.03e-3, "s": "g"}, {"E": 6.031, "I": 1.53e-3, "s": "g"}, {"E": 6.225, "I": 2.17e-3, "s": "g"}, {"E": 6.419, "I": 3.11e-3, "s": "g"}, {"E": 6.612, "I": 4.29e-3, "s": "g"}, {"E": 6.806, "I": 5.57e-3, "s": "g"}, {"E": 6.999, "I": 7.24e-3, "s": "g"}, {"E": 7.193, "I": 9.17e-3, "s": "g"}, {"E": 7.387, "I": 1.14e-2, "s": "g"}, {"E": 7.580, "I": 1.38e-2, "s": "g"}, {"E": 7.774, "I": 1.64e-2, "s": "g"}, {"E": 7.967, "I": 1.93e-2, "s": "g"}, {"E": 8.161, "I": 2.33e-2, "s": "g"}, {"E": 8.355, "I": 2.69e-2, "s": "g"}, {"E": 8.548, "I": 3.20e-2, "s": "g"}, {"E": 8.742, "I": 3.88e-2, "s": "g"}, {"E": 8.935, "I": 4.69e-2, "s": "g"}, {"E": 9.129, "I": 5.75e-2, "s": "g"}, {"E": 9.323, "I": 7.35e-2, "s": "g"}, {"E": 9.516, "I": 9.43e-2, "s": "g"}, {"E": 9.710, "I": 0.121, "s": "g"}, {"E": 9.903, "I": 0.157, "s": "g"}, {"E": 10.097, "I": 0.201, "s": "g"}, {"E": 10.291, "I": 0.261, "s": "g"}, {"E": 10.484, "I": 0.335, "s": "g"}, {"E": 10.678, "I": 0.423, "s": "g"}, {"E": 10.871, "I": 0.535, "s": "g"},
            {"E": 6.419, "I": 1.44e-5, "s": "b"}, {"E": 6.612, "I": 2.30e-5, "s": "b"}, {"E": 6.806, "I": 3.49e-5, "s": "b"}, {"E": 6.999, "I": 5.27e-5, "s": "b"}, {"E": 7.193, "I": 7.57e-5, "s": "b"}, {"E": 7.387, "I": 1.07e-4, "s": "b"}, {"E": 7.580, "I": 1.48e-4, "s": "b"}, {"E": 7.774, "I": 2.04e-4, "s": "b"}, {"E": 7.967, "I": 2.81e-4, "s": "b"}, {"E": 8.161, "I": 3.82e-4, "s": "b"}, {"E": 8.355, "I": 5.19e-4, "s": "b"}, {"E": 8.548, "I": 7.04e-4, "s": "b"}, {"E": 8.742, "I": 9.86e-4, "s": "b"}, {"E": 8.935, "I": 1.36e-3, "s": "b"}, {"E": 9.129, "I": 1.93e-3, "s": "b"}, {"E": 9.323, "I": 2.77e-3, "s": "b"}, {"E": 9.516, "I": 3.88e-3, "s": "b"}, {"E": 9.710, "I": 5.50e-3, "s": "b"}, {"E": 9.903, "I": 7.80e-3, "s": "b"}, {"E": 10.097, "I": 1.14e-2, "s": "b"}, {"E": 10.291, "I": 1.59e-2, "s": "b"}, {"E": 10.484, "I": 2.26e-2, "s": "b"}, {"E": 10.678, "I": 3.16e-2, "s": "b"}, {"E": 10.871, "I": 4.48e-2, "s": "b"}
          ]},
          "mark": {"type": "circle", "size": 34, "opacity": 1},
          "encoding": {
            "x": {"field": "E", "type": "quantitative", "scale": {"type": "log", "domain": [2.32, 11], "range": [114, 555], "nice": false},
              "axis": {"orient": "bottom", "values": [2.5, 3, 3.5, 4, 4.5, 5, 5.5, 6, 6.5, 7, 7.5, 8, 8.5, 9, 9.5, 10, 10.5, 11], "labelExpr": "datum.value == 4 || datum.value == 6 || datum.value == 8 || datum.value == 10 ? format(datum.value, 'd') : ''", "domain": true, "tickSize": -5, "tickWidth": 1, "labelFont": "Liberation Sans", "labelFontSize": 18, "labelPadding": 12, "labelOverlap": false, "labelFlush": false, "title": "Peak field (MV/cm)", "titleFont": "Liberation Sans", "titleFontSize": 26, "titleFontWeight": "normal", "titleX": 328.5, "titleY": 62, "titleBaseline": "alphabetic", "titleAlign": "center"}},
            "y": {"field": "I", "type": "quantitative", "scale": {"type": "log", "domain": [0.00001, 1.44], "nice": false},
              "axis": {"orient": "left", "offset": -114, "values": [0.00001, 0.00002, 0.00003, 0.00004, 0.00005, 0.00006, 0.00007, 0.00008, 0.00009, 0.0001, 0.0002, 0.0003, 0.0004, 0.0005, 0.0006, 0.0007, 0.0008, 0.0009, 0.001, 0.002, 0.003, 0.004, 0.005, 0.006, 0.007, 0.008, 0.009, 0.01, 0.02, 0.03, 0.04, 0.05, 0.06, 0.07, 0.08, 0.09, 0.1, 0.2, 0.3, 0.4, 0.5, 0.6, 0.7, 0.8, 0.9, 1], "labelExpr": "abs(log(datum.value)/LN10 - round(log(datum.value)/LN10)) < 0.001 ? '10' + (datum.value < 0.5 ? '⁻' : '') + ['⁰','¹','²','³','⁴','⁵'][abs(round(log(datum.value)/LN10))] : ''", "domain": true, "tickSize": {"condition": {"test": "abs(log(datum.value)/LN10 - round(log(datum.value)/LN10)) < 0.001", "value": -7}, "value": -4}, "tickWidth": 1, "labelFont": "Liberation Sans", "labelFontSize": 15, "labelPadding": 17, "labelOverlap": false, "labelFlush": false, "title": "Integrated intensity (arb. units)", "titleFont": "Liberation Sans", "titleFontSize": 21, "titleFontWeight": "normal", "titleAngle": -90, "titleX": -51, "titleY": 136, "titleBaseline": "middle", "titleAlign": "center"}},
            "color": {"field": "s", "type": "nominal", "scale": {"domain": ["r", "g", "b"], "range": ["#f42525", "#35994a", "#22337d"]}, "legend": null}
          }
        },
        {
          "data": {"values": [
            {"E": 2.32, "I": 4.62e-5, "f": "10"}, {"E": 6.47, "I": 1.34, "f": "10"},
            {"E": 4.137, "I": 1.0e-5, "f": "14"}, {"E": 7.245, "I": 2.74e-2, "f": "14"},
            {"E": 6.39, "I": 1.07e-5, "f": "18"}, {"E": 9.01, "I": 5.5e-3, "f": "18"}
          ]},
          "mark": {"type": "line", "color": "black", "strokeWidth": 1.3, "strokeDash": [3, 2.5]},
          "encoding": {
            "x": {"field": "E", "type": "quantitative", "scale": {"type": "log", "domain": [2.32, 11], "range": [114, 555], "nice": false},
              "axis": {"orient": "top", "values": [2.5, 3, 3.5, 4, 4.5, 5, 5.5, 6, 6.5, 7, 7.5, 8, 8.5, 9, 9.5, 10, 10.5, 11], "domain": true, "labels": false, "tickSize": -5, "tickWidth": 1, "title": null}},
            "y": {"field": "I", "type": "quantitative", "scale": {"type": "log", "domain": [0.00001, 1.44], "nice": false},
              "axis": {"orient": "right", "values": [0.00001, 0.00002, 0.00003, 0.00004, 0.00005, 0.00006, 0.00007, 0.00008, 0.00009, 0.0001, 0.0002, 0.0003, 0.0004, 0.0005, 0.0006, 0.0007, 0.0008, 0.0009, 0.001, 0.002, 0.003, 0.004, 0.005, 0.006, 0.007, 0.008, 0.009, 0.01, 0.02, 0.03, 0.04, 0.05, 0.06, 0.07, 0.08, 0.09, 0.1, 0.2, 0.3, 0.4, 0.5, 0.6, 0.7, 0.8, 0.9, 1], "domain": true, "labels": false, "tickSize": {"condition": {"test": "abs(log(datum.value)/LN10 - round(log(datum.value)/LN10)) < 0.001", "value": -7}, "value": -4}, "tickWidth": 1, "title": null}},
            "detail": {"field": "f"}
          }
        },
        {
          "data": {"values": [{"E": 3.691, "I": 8.89e-3, "sup": "10"}, {"E": 5.035, "I": 4.17e-4, "sup": "14"}, {"E": 6.84, "I": 1.46e-4, "sup": "18"}]},
          "mark": {"type": "text", "font": "Liberation Serif", "fontStyle": "italic", "fontSize": 32, "align": "right", "baseline": "alphabetic", "color": "black", "text": "E"},
          "encoding": {
            "x": {"field": "E", "type": "quantitative", "scale": {"type": "log", "domain": [2.32, 11], "range": [114, 555], "nice": false}, "axis": null},
            "y": {"field": "I", "type": "quantitative", "scale": {"type": "log", "domain": [0.00001, 1.44], "nice": false}, "axis": null}
          }
        },
        {
          "data": {"values": [{"E": 3.691, "I": 8.89e-3, "sup": "10"}, {"E": 5.035, "I": 4.17e-4, "sup": "14"}, {"E": 6.84, "I": 1.46e-4, "sup": "18"}]},
          "mark": {"type": "text", "font": "Liberation Serif", "fontSize": 20, "align": "left", "baseline": "alphabetic", "color": "black", "dx": 2, "dy": -11},
          "encoding": {
            "x": {"field": "E", "type": "quantitative", "scale": {"type": "log", "domain": [2.32, 11], "range": [114, 555], "nice": false}, "axis": null},
            "y": {"field": "I", "type": "quantitative", "scale": {"type": "log", "domain": [0.00001, 1.44], "nice": false}, "axis": null},
            "text": {"field": "sup"}
          }
        },
        {
          "data": {"values": [{"E": 2.392, "I": 0.361, "t": "without"}]},
          "mark": {"type": "text", "font": "Liberation Sans", "fontSize": 27, "align": "left", "baseline": "alphabetic", "color": "black"},
          "encoding": {
            "x": {"field": "E", "type": "quantitative", "scale": {"type": "log", "domain": [2.32, 11], "range": [114, 555], "nice": false}, "axis": null},
            "y": {"field": "I", "type": "quantitative", "scale": {"type": "log", "domain": [0.00001, 1.44], "nice": false}, "axis": null},
            "text": {"field": "t"}
          }
        },
        {
          "data": {"values": [{"E": 2.392, "I": 0.361, "t": "ϵ(k"}]},
          "mark": {"type": "text", "font": "Liberation Serif", "fontStyle": "italic", "fontSize": 27, "align": "left", "baseline": "alphabetic", "color": "black", "dx": 94},
          "encoding": {
            "x": {"field": "E", "type": "quantitative", "scale": {"type": "log", "domain": [2.32, 11], "range": [114, 555], "nice": false}, "axis": null},
            "y": {"field": "I", "type": "quantitative", "scale": {"type": "log", "domain": [0.00001, 1.44], "nice": false}, "axis": null},
            "text": {"field": "t"}
          }
        },
        {
          "data": {"values": [{"E": 2.392, "I": 0.361, "t": "z"}]},
          "mark": {"type": "text", "font": "Liberation Serif", "fontStyle": "italic", "fontSize": 18, "align": "left", "baseline": "alphabetic", "color": "black", "dx": 128, "dy": 5},
          "encoding": {
            "x": {"field": "E", "type": "quantitative", "scale": {"type": "log", "domain": [2.32, 11], "range": [114, 555], "nice": false}, "axis": null},
            "y": {"field": "I", "type": "quantitative", "scale": {"type": "log", "domain": [0.00001, 1.44], "nice": false}, "axis": null},
            "text": {"field": "t"}
          }
        },
        {
          "data": {"values": [{"E": 2.392, "I": 0.361, "t": ", t)"}]},
          "mark": {"type": "text", "font": "Liberation Serif", "fontStyle": "italic", "fontSize": 27, "align": "left", "baseline": "alphabetic", "color": "black", "dx": 138},
          "encoding": {
            "x": {"field": "E", "type": "quantitative", "scale": {"type": "log", "domain": [2.32, 11], "range": [114, 555], "nice": false}, "axis": null},
            "y": {"field": "I", "type": "quantitative", "scale": {"type": "log", "domain": [0.00001, 1.44], "nice": false}, "axis": null},
            "text": {"field": "t"}
          }
        },
        {
          "data": {"values": [{"E": 1.899, "I": 8.9, "t": "(d)"}]},
          "mark": {"type": "text", "font": "Liberation Serif", "fontSize": 28, "align": "center", "baseline": "alphabetic", "color": "black"},
          "encoding": {
            "x": {"field": "E", "type": "quantitative", "scale": {"type": "log", "domain": [2.32, 11], "range": [114, 555], "nice": false}, "axis": null},
            "y": {"field": "I", "type": "quantitative", "scale": {"type": "log", "domain": [0.00001, 1.44], "nice": false}, "axis": null},
            "text": {"field": "t"}
          }
        }
      ]
    }
  ]
}
